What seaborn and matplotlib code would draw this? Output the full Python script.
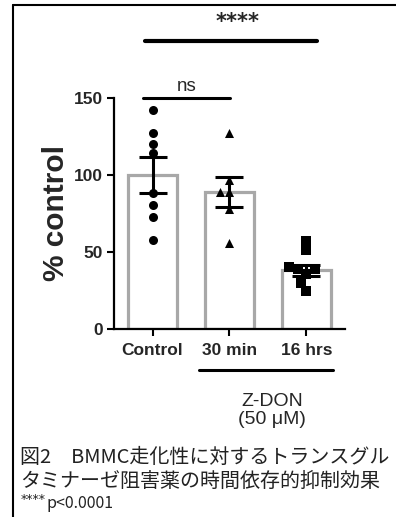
import pandas as pd
import seaborn as sns
import matplotlib.pyplot as plt
from matplotlib.lines import Line2D

# data
groups = ["Control", "30 min", "16 hrs"]
bar_means = [100, 89, 38]
bar_sem = [11.5, 9.5, 3.5]
control_pts = [142, 127, 120, 114, 88, 80.5, 73, 58]
min30_pts = [127, 97, 89, 89, 78, 56]
hrs16_pts = [57, 51, 40, 39, 39, 36, 30, 25]
markers = ["o", "^", "s"]

caption = ["図2　BMMC走化性に対するトランスグル",
           "タミナーゼ阻害薬の時間依存的抑制効果"]

sns.set_theme(style="ticks")
plt.rcParams["font.family"] = ["Liberation Sans", "DejaVu Sans"]

df = pd.DataFrame({
    "group": ["Control"] * len(control_pts) + ["30 min"] * len(min30_pts) + ["16 hrs"] * len(hrs16_pts),
    "value": control_pts + min30_pts + hrs16_pts,
})

fig = plt.figure(figsize=(3.96, 5.17), dpi=100)
ax = fig.add_axes([0.288, 0.3636, 0.583, 0.447])

sns.barplot(x=groups, y=bar_means, order=groups, errorbar=None, color="white",
            edgecolor="#a8a8a8", linewidth=2.3, width=0.63, ax=ax, zorder=1)

for g, m in zip(groups, markers):
    sns.swarmplot(data=df[df["group"] == g], x="group", y="value", order=groups,
                  marker=m, color="black", size=6.5, ax=ax, zorder=3)

ax.errorbar(range(len(groups)), bar_means, yerr=bar_sem, fmt="none", ecolor="black",
            elinewidth=2.2, capsize=10, capthick=2.2, zorder=4)

ax.set_xlim(-0.5, 2.5)
ax.set_ylim(0, 150)
ax.set_yticks([0, 50, 100, 150])
ax.set_xlabel("")
ax.set_ylabel("% control", fontsize=21.5, fontweight="bold", labelpad=3)
ax.tick_params(axis="both", width=1.5, length=5, labelsize=12.5, color="black", pad=3)
ax.tick_params(axis="x", pad=5)
for lab in ax.get_xticklabels() + ax.get_yticklabels():
    lab.set_fontweight("bold")
for s in ["left", "bottom"]:
    ax.spines[s].set_linewidth(1.6)
    ax.spines[s].set_color("black")
sns.despine(ax=ax)

# significance bars
ax.plot([-0.13, 1.01], [150, 150], color="black", lw=2.2, clip_on=False)
ax.text(0.44, 152, "ns", ha="center", va="bottom", fontsize=13.5)
ax.plot([-0.10, 2.14], [187, 187], color="black", lw=3, clip_on=False)
ax.text(1.10, 199, "****", ha="center", va="center", fontsize=15, fontweight="bold",
        family=["DejaVu Sans"])

# treatment bracket
ax.plot([0.61, 2.34], [-26.6, -26.6], color="black", lw=2.2, clip_on=False)
ax.text(1.55, -47, "Z-DON", ha="center", va="center", fontsize=14)
ax.text(1.55, -59, "(50 \u03bcM)", ha="center", va="center", fontsize=14)

# frame
fig.add_artist(Line2D([13 / 396, 13 / 396], [0, 1 - 5 / 517], color="black", lw=1.5))
fig.add_artist(Line2D([13 / 396, 1], [1 - 5 / 517, 1 - 5 / 517], color="black", lw=1.5))

cjk = ["Noto Sans CJK JP", "DejaVu Sans"]
fig.text(20 / 396, 1 - 457 / 517, caption[0], family=cjk, fontsize=14.4, va="center", color="#222222")
fig.text(20 / 396, 1 - 481 / 517, caption[1], family=cjk, fontsize=14.4, va="center", color="#222222")
fig.text(21 / 396, 1 - 499 / 517, "****", family=["DejaVu Sans"], fontsize=9, va="center", color="#222222")
fig.text(46 / 396, 1 - 503 / 517, "p<0.0001", family=cjk, fontsize=11.5, va="center", color="#222222")

fig.savefig("out.png", dpi=100)
